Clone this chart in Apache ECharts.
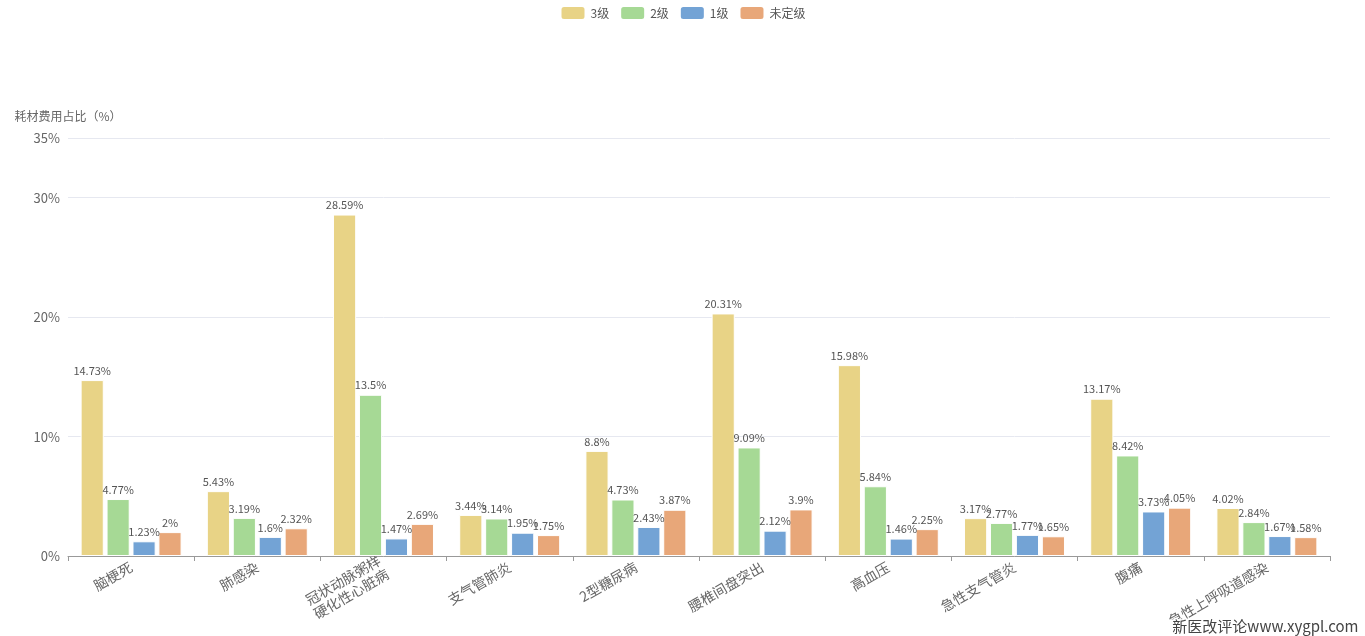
<!DOCTYPE html>
<html>
<head>
<meta charset="utf-8">
<script src="https://cdn.jsdelivr.net/npm/echarts@6/dist/echarts.min.js"></script>
<style>
    html, body { margin: 0; padding: 0; background: #fff; }
    #main { width: 1365px; height: 636px; }
</style>
</head>
<body>
<div id="main"></div>
<script>
    // 病种
    var categories = ['脑梗死', '肺感染', '冠状动脉粥样\n硬化性心脏病', '支气管肺炎', '2型糖尿病',
        '腰椎间盘突出', '高血压', '急性支气管炎', '腹痛', '急性上呼吸道感染'];
    // 各级医院耗材费用占比
    var level3 = [14.73, 5.43, 28.59, 3.44, 8.8, 20.31, 15.98, 3.17, 13.17, 4.02];
    var level2 = [4.77, 3.19, 13.5, 3.14, 4.73, 9.09, 5.84, 2.77, 8.42, 2.84];
    var level1 = [1.23, 1.6, 1.47, 1.95, 2.43, 2.12, 1.46, 1.77, 3.73, 1.67];
    var unrated = [2, 2.32, 2.69, 1.75, 3.87, 3.9, 2.25, 1.65, 4.05, 1.58];
    var seriesNames = ['3级', '2级', '1级', '未定级'];
    var colors = ['#e8d386', '#a6d995', '#73a3d5', '#e8a779'];
    var font = '"Noto Sans CJK SC", sans-serif';

    var chart = echarts.init(document.getElementById('main'));

    function makeSeries(name, data) {
        return {
            name: name,
            type: 'bar',
            data: data,
            barGap: '12%',
            barCategoryGap: '20%',
            itemStyle: { borderColor: '#fff', borderWidth: 1 },
            label: {
                show: true,
                position: 'top',
                distance: 4,
                formatter: '{c}%',
                color: '#555',
                fontSize: 11,
                fontFamily: font
            }
        };
    }

    var option = {
        color: colors,
        textStyle: { fontFamily: font },
        legend: {
            top: 0,
            itemWidth: 25,
            itemHeight: 14,
            itemGap: 10,
            textStyle: { color: '#555', fontSize: 12 },
            data: seriesNames
        },
        grid: { left: 68, right: 35, top: 138, bottom: 80 },
        xAxis: {
            type: 'category',
            data: categories,
            axisLine: { lineStyle: { color: '#999' } },
            axisTick: { show: true, length: 5, lineStyle: { color: '#999' } },
            axisLabel: {
                rotate: 30,
                interval: 0,
                margin: 10,
                color: '#666',
                fontSize: 14,
                lineHeight: 16
            }
        },
        yAxis: {
            type: 'value',
            min: 0,
            max: 35,
            interval: 10,
            name: '耗材费用占比（%）',
            nameGap: 16,
            nameTextStyle: { color: '#666', fontSize: 12 },
            axisLine: { show: false },
            axisTick: { show: false },
            axisLabel: { formatter: '{value}%', color: '#666', fontSize: 13 },
            splitLine: { lineStyle: { color: '#e6e8f0' } }
        },
        graphic: [{
            type: 'text',
            right: 5,
            bottom: 1,
            style: {
                text: '新医改评论www.xygpl.com',
                fill: '#444',
                stroke: '#fff',
                lineWidth: 3,
                font: '15px ' + font
            },
            z: 100
        }],
        series: [
            makeSeries(seriesNames[0], level3),
            makeSeries(seriesNames[1], level2),
            makeSeries(seriesNames[2], level1),
            makeSeries(seriesNames[3], unrated)
        ]
    };
    chart.setOption(option);
</script>
</body>
</html>
